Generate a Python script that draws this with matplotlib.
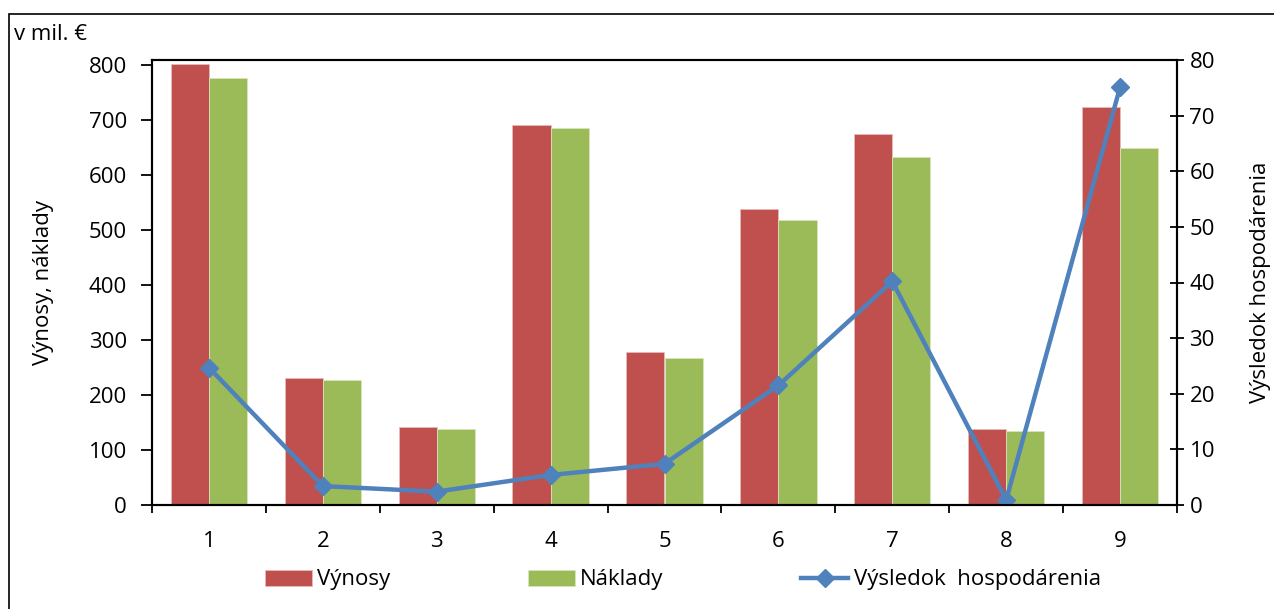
import numpy as np
import matplotlib.pyplot as plt
from matplotlib.patches import Rectangle

plt.rcParams['font.family'] = ['Open Sans', 'DejaVu Sans']

categories = ['1', '2', '3', '4', '5', '6', '7', '8', '9']
vynosy = [801, 231, 141, 691, 278, 538, 675, 138, 724]
naklady = [776, 228, 138, 685, 267, 518, 633, 134, 649]
vysledok = [24.7, 3.4, 2.4, 5.4, 7.4, 21.5, 40.2, 0.9, 75.1]

x = np.arange(1, len(categories) + 1)
w = 0.335
fs = 16

fig = plt.figure(figsize=(12.74, 6.09), dpi=100)
ax = fig.add_axes([152 / 1274, 1 - 505 / 609, (1177 - 152) / 1274, (505 - 60) / 609])
ax2 = ax.twinx()

b1 = ax.bar(x - w / 2, vynosy, w, color='#C0504D', edgecolor='#E6B9B8', linewidth=0.6, label='Výnosy')
b2 = ax.bar(x + w / 2, naklady, w, color='#9BBB59', edgecolor='#D7E4BD', linewidth=0.6, label='Náklady')
l1, = ax2.plot(x, vysledok, color='#4F81BD', lw=3.2, marker='D', ms=9,
               label='Výsledok  hospodárenia')

ax.set_xlim(0.5, len(categories) + 0.5)
ax.set_ylim(0, 809)
ax.set_yticks(np.arange(0, 801, 100))
ax2.set_ylim(0, 80)
ax2.set_yticks(np.arange(0, 81, 10))

ax.set_xticks(np.arange(0.5, len(categories) + 1, 1))
ax.set_xticklabels([])
ax.set_xticks(x, minor=True)
ax.set_xticklabels(categories, minor=True)
ax.tick_params(axis='x', which='major', length=6, width=1.3, direction='out')
ax.tick_params(axis='x', which='minor', length=0, pad=19, labelsize=fs)
ax.tick_params(axis='y', length=8, width=1.3, direction='out', labelsize=fs, pad=10)
ax2.tick_params(axis='y', length=10, width=1.3, direction='inout', labelsize=fs, pad=4)

for a in (ax, ax2):
    for s in a.spines.values():
        s.set_linewidth(1.5)
        s.set_color('black')

ax.set_ylabel('Výnosy, náklady', fontsize=fs, labelpad=25)
ax2.set_ylabel('Výsledok hospodárenia', fontsize=fs, labelpad=25)

fig.text(14 / 1274, 1 - 35 / 609, 'v mil. €', fontsize=fs, va='center', ha='left')

fig.legend(handles=[b1, b2, l1], loc='center', bbox_to_anchor=(0.536, 1 - 580 / 609),
           ncol=3, frameon=False, fontsize=fs, handlelength=2.1, columnspacing=6.2,
           handletextpad=0.25)

fig.patches.append(Rectangle((9 / 1274, -0.05), 1.1, 1 - 14 / 609 + 0.05,
                             transform=fig.transFigure, fill=False, ec='black', lw=1.2))

fig.savefig('out.png', dpi=100)
